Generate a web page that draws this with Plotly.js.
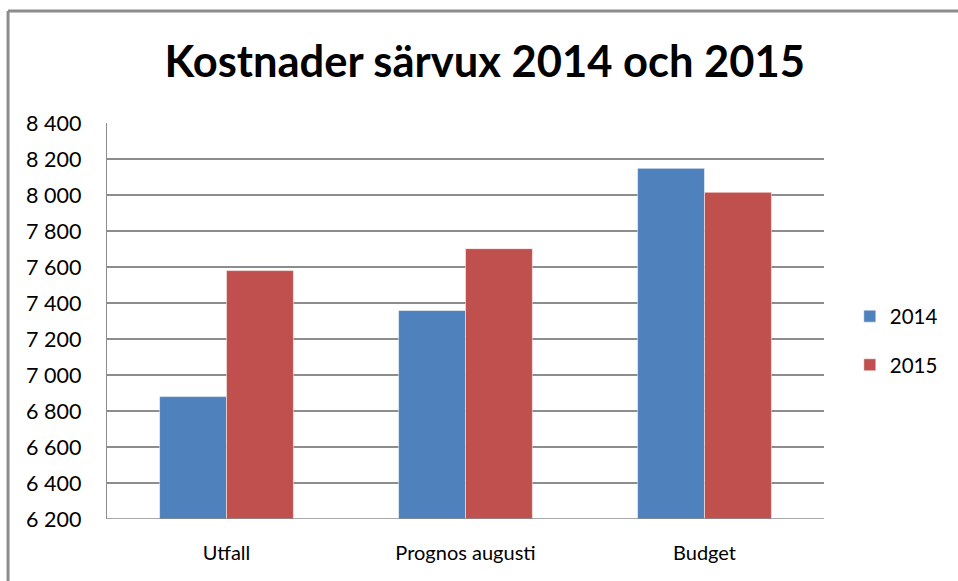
<!DOCTYPE html>
<html>
<head>
<meta charset="utf-8">
<script src="https://cdn.plot.ly/plotly-3.0.1.min.js"></script>
<style>
html,body{margin:0;padding:0;background:#fff;}
#chart{width:958px;height:581px;}
</style>
</head>
<body>
<div id="chart"></div>
<script>
const categories = ["Utfall", "Prognos augusti", "Budget"];
const seriesNames = ["2014", "2015"];
const values2014 = [6880, 7358, 8148];
const values2015 = [7580, 7702, 8015];
const titleText = "Kostnader särvux 2014 och 2015";

const FONT = "Lato, 'Open Sans', sans-serif";

const traces = [
  {type: "bar", name: seriesNames[0], x: categories, y: values2014, legendgroup: "a",
   marker: {color: "#4F81BD", line: {color: "rgba(255,255,255,0.5)", width: 1}}},
  {type: "bar", name: seriesNames[1], x: categories, y: values2015, legendgroup: "b",
   marker: {color: "#C0504D", line: {color: "rgba(255,255,255,0.5)", width: 1}}}
];

const layout = {
  width: 958, height: 581,
  margin: {l: 107, r: 134, t: 123, b: 62, autoexpand: false},
  paper_bgcolor: "#fff", plot_bgcolor: "#fff",
  separators: ", ",
  font: {family: FONT, color: "#000", size: 20},
  title: {text: "<b>" + titleText + "</b>", font: {family: FONT, size: 43.5, color: "#000"},
          x: 0.506, xref: "container", xanchor: "center", y: 0.893, yref: "container", yanchor: "middle"},
  barmode: "group", bargap: 0.44, bargroupgap: 0,
  xaxis: {type: "category", showgrid: false, showline: false, ticks: "",
          tickfont: {family: FONT, size: 20, color: "#000"}, ticklabelstandoff: 20},
  yaxis: {range: [6200, 8400], dtick: 200, tick0: 6200, tickformat: ",d",
          showgrid: true, gridcolor: "#8c8c8c", gridwidth: 1.3,
          showline: true, linecolor: "#8c8c8c", linewidth: 1.3, zeroline: false, ticks: "",
          tickfont: {family: FONT, size: 21.5, color: "#000"}, ticklabelstandoff: 20},
  showlegend: true,
  legend: {x: 1.036, xanchor: "left", y: 0.45, yanchor: "middle", traceorder: "grouped",
           tracegroupgap: 19, font: {family: FONT, size: 20.5, color: "#000"}, bgcolor: "rgba(0,0,0,0)"},
  shapes: [
    {type: "line", xref: "paper", yref: "paper", x0: -0.138, x1: 1.2, y0: 1.283, y1: 1.283,
     line: {color: "#8c8c8c", width: 3}},
    {type: "line", xref: "paper", yref: "paper", x0: -0.138, x1: -0.138, y0: 1.283, y1: -0.2,
     line: {color: "#8c8c8c", width: 3}},
    {type: "line", xref: "paper", yref: "y", x0: 0, x1: 1, y0: 6200, y1: 6200,
     line: {color: "#8c8c8c", width: 1.3}}
  ]
};

Plotly.newPlot("chart", traces, layout, {displayModeBar: false, staticPlot: true});
</script>
</body>
</html>
